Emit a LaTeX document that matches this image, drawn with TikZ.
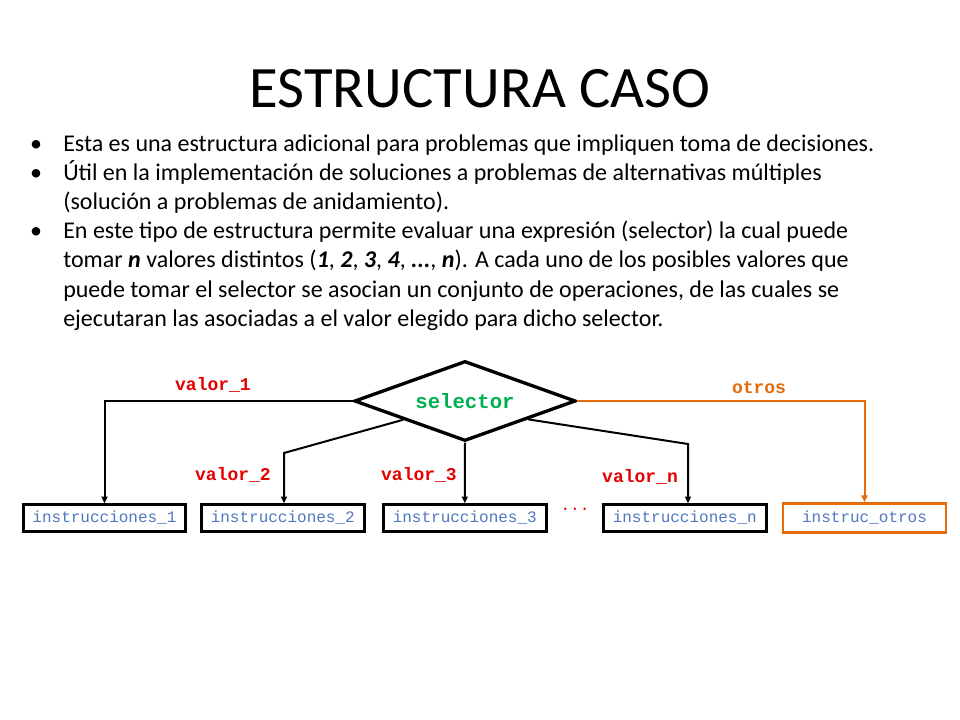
\documentclass[tikz,border=0pt]{standalone}
\usepackage{fontspec}
\setmainfont{Carlito}
\setmonofont{Liberation Mono}
\usetikzlibrary{positioning, arrows.meta, shapes.geometric, calc}
\usepackage{xcolor}
\definecolor{valred}{RGB}{230,0,0}
\definecolor{otrorange}{RGB}{228,108,10}
\definecolor{selgreen}{RGB}{0,176,80}
\definecolor{instblue}{RGB}{79,120,190}

\begin{document}
\begin{tikzpicture}[x=0.75pt, y=-0.75pt,
      txt/.style={font=\fontsize{18}{21}\selectfont, anchor=base west, inner sep=0pt},
      dot/.style={font=\fontsize{18}{21}\selectfont, anchor=base, inner sep=0pt},
      instbox/.style={draw, line width=2.2pt, minimum width=122pt, minimum height=20pt,
                  inner sep=0pt, font=\ttfamily\fontsize{12}{12}\selectfont, text=instblue},
      lbl/.style={font=\ttfamily\bfseries\fontsize{13.5}{14}\selectfont, text=valred},
      conn/.style={line width=1.5pt, -{Triangle[length=5pt,width=4.5pt]}}]
    \fill[white] (0,0) rectangle (960,720);
    \useasboundingbox (0,0) rectangle (960,720);

    % title and bullets
    \node[anchor=base, font=\fontsize{44}{44}\selectfont] (title) at (480,108) {ESTRUCTURA CASO};
    \node[dot] (b1) at (36,152) {•};
    \node[dot] (b2) at (36,181) {•};
    \node[dot] (b3) at (36,239) {•};
    \node[txt] (l1) at (63,152) {Esta es una estructura adicional para problemas que impliquen toma de decisiones.};
    \node[txt] (l2) at (63,181) {Útil en la implementación de soluciones a problemas de alternativas múltiples};
    \node[txt] (l3) at (63,210) {(solución a problemas de anidamiento).};
    \node[txt] (l4) at (63,239) {En este tipo de estructura permite evaluar una expresión (selector) la cual puede};
    \node[txt] (l5) at (63,268) {tomar \textbf{\textit{n}} valores distintos (\textbf{\textit{1}}, \textbf{\textit{2}}, \textbf{\textit{3}}, \textbf{\textit{4}}, \textbf{\textit{...}}, \textbf{\textit{n}}). A cada uno de los posibles valores que};
    \node[txt] (l6) at (63,297) {puede tomar el selector se asocian un conjunto de operaciones, de las cuales se};
    \node[txt] (l7) at (63,326) {ejecutaran las asociadas a el valor elegido para dicho selector.};

    % selector
    \node[draw, diamond, aspect=2.7, line width=2.5pt, minimum width=166pt, minimum height=60pt, inner sep=1pt,
          font=\ttfamily\bfseries\fontsize{15.5}{16}\selectfont, text=selgreen] (sel) at (465,401) {selector};

    % instruction boxes
    \node[instbox] (inst1) at (104.5,518) {instrucciones\_1};
    \node[instbox, right=9.5pt of inst1] (inst2) {instrucciones\_2};
    \node[instbox, right=12.3pt of inst2] (inst3) {instrucciones\_3};
    \node[instbox, right=40.8pt of inst3] (instn) {instrucciones\_n};
    \node[instbox, draw=otrorange, line width=1.8pt, minimum height=22pt, right=10.8pt of instn] (otros) {instruc\_otros};
    \node[font=\ttfamily\fontsize{12}{12}\selectfont, text=valred] (dots) at (575,509) {...};

    % labels
    \node[lbl] (v1) at (213,385) {valor\_1};
    \node[lbl] (v2) at (233,475) {valor\_2};
    \node[lbl] (v3) at (419,475) {valor\_3};
    \node[lbl] (vn) at (640,477) {valor\_n};
    \node[lbl, text=otrorange] (vo) at (759,388) {otros};

    % connectors
    \coordinate (p2) at ($(sel.west)!0.45!(sel.south)$);
    \coordinate (pn) at ($(sel.east)!0.44!(sel.south)$);
    \coordinate (k2) at (284,453);
    \coordinate (kn) at (688,444);
    \draw[conn] (sel.west) -| (inst1.north);
    \draw[conn] (p2) -- (k2) -- (k2 |- inst2.north);
    \draw[conn] (sel.south) -- (inst3.north);
    \draw[conn] (pn) -- (kn) -- (kn |- instn.north);
    \draw[conn, otrorange] (sel.east) -| (otros.north);
  \end{tikzpicture}
\end{document}
